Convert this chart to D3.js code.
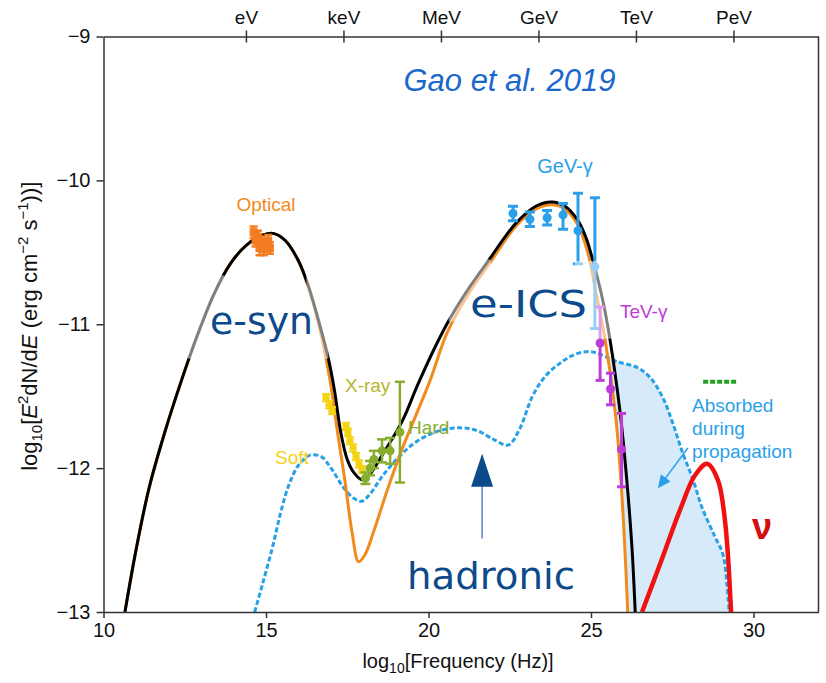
<!DOCTYPE html>
<html>
<meta charset="utf-8">
<style>
body { margin: 0; background: #fff; font-family: "Liberation Sans", Arial, sans-serif; }
.axis path, .axis line { fill: none; stroke: #333; stroke-width: 1.5px; }
.axis text { font-size: 20px; fill: #111; font-family: "Liberation Sans", Arial, sans-serif; }
.lbl { font-size: 19px; }
.big { font-family: "DejaVu Sans", sans-serif; font-size: 38px; fill: #0c4a8c; }
</style>
<body>
<script src="https://d3js.org/d3.v7.min.js"></script>
<script>
// ---- data (x = log10 frequency, y = log10 flux) ----
var totalCurve = [
  [10.66,-13.0],[11.0,-12.57],[11.4,-12.14],[11.9,-11.74],[12.4,-11.39],[12.9,-11.07],
  [13.4,-10.79],[13.9,-10.58],[14.4,-10.45],[14.9,-10.38],[15.25,-10.37],[15.6,-10.42],
  [16.0,-10.56],[16.3,-10.73],[16.6,-10.96],[16.9,-11.22],[17.1,-11.45],[17.3,-11.75],
  [17.5,-11.94],[17.7,-12.03],[17.95,-12.08],[18.2,-12.04],[18.6,-11.9],[19.2,-11.67],
  [19.65,-11.43],[20.2,-11.16],[20.66,-10.96],[21.3,-10.73],[21.9,-10.54],[22.3,-10.41],
  [22.72,-10.29],[23.3,-10.18],[23.8,-10.15],[24.2,-10.18],[24.57,-10.27],[24.85,-10.4],
  [25.06,-10.56],[25.35,-10.82],[25.58,-11.1],[25.9,-11.62],[26.1,-12.08],[26.26,-12.55],[26.36,-13.0]
];
var leptonicCurve = [
  [10.66,-13.0],[11.0,-12.57],[11.4,-12.14],[11.9,-11.74],[12.4,-11.39],[12.9,-11.07],
  [13.4,-10.79],[13.9,-10.58],[14.4,-10.45],[14.9,-10.38],[15.25,-10.37],[15.6,-10.42],
  [16.0,-10.56],[16.3,-10.74],[16.6,-10.98],[16.97,-11.39],[17.2,-11.75],[17.43,-12.09],
  [17.65,-12.45],[17.85,-12.65],[18.05,-12.6],[18.3,-12.45],[18.72,-12.16],[19.2,-11.86],
  [20.05,-11.39],[20.57,-11.06],[21.2,-10.8],[21.9,-10.57],[22.72,-10.31],[23.3,-10.2],
  [23.8,-10.17],[24.2,-10.2],[24.57,-10.3],[24.9,-10.5],[25.15,-10.78],[25.43,-11.1],
  [25.75,-11.62],[25.92,-12.08],[26.04,-12.55],[26.13,-13.0]
];
var hadronicCurve = [
  [14.65,-13.0],[14.9,-12.8],[15.2,-12.55],[15.45,-12.31],[15.7,-12.12],[16.0,-11.98],
  [16.35,-11.91],[16.7,-11.92],[17.0,-12.0],[17.4,-12.14],[17.7,-12.21],[17.95,-12.23],
  [18.2,-12.18],[18.6,-12.05],[19.1,-11.92],[19.6,-11.82],[20.2,-11.75],[20.9,-11.72],
  [21.5,-11.74],[22.0,-11.8],[22.45,-11.84],[22.8,-11.73],[23.2,-11.5],[23.6,-11.36],
  [24.05,-11.27],[24.5,-11.21],[24.97,-11.19],[25.3,-11.21],[25.8,-11.26],[26.42,-11.3],
  [26.82,-11.37],[27.21,-11.51],[27.52,-11.69],[27.83,-11.9],[28.14,-12.08],[28.41,-12.27],
  [28.8,-12.47],[29.06,-12.6],[29.18,-12.8],[29.25,-13.0]
];
var neutrinoCurve = [
  [26.57,-13.0],[27.12,-12.67],[27.74,-12.29],[28.2,-12.05],[28.57,-11.97],[28.9,-12.08],
  [29.12,-12.36],[29.31,-13.0]
];
var neutrinoLimit = [[28.45,-11.40],[29.5,-11.40]];

var opticalPts = [
  {x:14.62,y:-10.36,e:0.04},{x:14.68,y:-10.42,e:0.04},{x:14.75,y:-10.39,e:0.04},
  {x:14.8,y:-10.47,e:0.05},{x:14.87,y:-10.43,e:0.04},{x:14.93,y:-10.48,e:0.04},
  {x:15.0,y:-10.45,e:0.04},{x:15.07,y:-10.42,e:0.04},{x:15.12,y:-10.47,e:0.04}
];
var softPts = [
  {x:16.85,y:-11.51,e:0.025},{x:16.94,y:-11.56,e:0.025},{x:17.03,y:-11.6,e:0.025},
  {x:17.46,y:-11.71,e:0.025},{x:17.52,y:-11.75,e:0.025},{x:17.58,y:-11.81,e:0.025},
  {x:17.68,y:-11.86,e:0.025},{x:17.77,y:-11.92,e:0.025},{x:17.86,y:-11.97,e:0.025},
  {x:17.95,y:-12.01,e:0.025}
];
var hardPts = [
  {x:18.06,y:-12.07,lo:0.04,hi:0.04},{x:18.2,y:-12.0,lo:0.05,hi:0.05},
  {x:18.32,y:-11.94,lo:0.06,hi:0.06},{x:18.57,y:-11.88,lo:0.08,hi:0.08},
  {x:18.82,y:-11.88,lo:0.09,hi:0.09},{x:19.12,y:-11.75,lo:0.35,hi:0.35}
];
var gevPts = [
  {x:22.6,y:-10.23,lo:0.05,hi:0.05},{x:23.12,y:-10.27,lo:0.05,hi:0.05},
  {x:23.65,y:-10.26,lo:0.05,hi:0.05},{x:24.14,y:-10.24,lo:0.1,hi:0.08},
  {x:24.6,y:-10.35,lo:0.23,hi:0.26},{x:25.12,y:-10.6,lo:0.43,hi:0.48}
];
var tevPts = [
  {x:25.28,y:-11.13,lo:0.26,hi:0.25},{x:25.6,y:-11.45,lo:0.11,hi:0.11},
  {x:25.94,y:-11.87,lo:0.26,hi:0.25}
];
var xTicks = [10, 15, 20, 25, 30];
var yTicks = [-13, -12, -11, -10, -9];
var energyTicks = [14.383, 17.383, 20.383, 23.383, 26.383, 29.383];
var energyLabels = ["eV", "keV", "MeV", "GeV", "TeV", "PeV"];
// faded patches of the original picture (x range, y range)
var fadeBands = [
  [12.6, 13.72, -10.66, -11.24], [16.24, 16.92, -10.66, -11.24],
  [20.62, 21.92, -10.55, -10.98], [24.5, 25.75, -10.56, -11.1]
];

// ---- layout ----
var margin = {top: 36.5, right: 7.5, bottom: 71, left: 103.5},
    width = 826 - margin.left - margin.right,
    height = 683 - margin.top - margin.bottom;

var x = d3.scaleLinear().domain([10, 32]).range([0, width]);
var y = d3.scaleLinear().domain([-13, -9]).range([height, 0]);

var svg = d3.select("body").append("svg")
    .attr("width", 826).attr("height", 683)
  .append("g")
    .attr("transform", "translate(" + margin.left + "," + margin.top + ")");

var defs = svg.append("defs");
defs.append("clipPath").attr("id", "plot")
  .append("rect").attr("width", width).attr("height", height);

var line = d3.line().x(function(d){return x(d[0]);}).y(function(d){return y(d[1]);})
    .curve(d3.curveCatmullRom.alpha(0.5));

// region right of the falling leptonic curve, used to clip the absorbed fill
var fall = leptonicCurve.filter(function(d){return d[0] >= 23.8;});
defs.append("clipPath").attr("id", "rightOfOrange")
  .append("path")
  .attr("d", line(fall) + "L" + x(32) + "," + y(-13) + "L" + x(32) + "," + y(-9) +
        "L" + x(23.8) + "," + y(-9) + "Z");

var plot = svg.append("g").attr("clip-path", "url(#plot)");

// absorbed region
plot.append("g").attr("clip-path", "url(#rightOfOrange)")
  .append("path")
  .datum(hadronicCurve.filter(function(d){return d[0] >= 24.5;}))
  .attr("fill", "#d6eafa")
  .attr("d", d3.area().x(function(d){return x(d[0]);}).y0(y(-13))
      .y1(function(d){return y(d[1]);}).curve(d3.curveCatmullRom.alpha(0.5)));

// curves
plot.append("path").datum(hadronicCurve).attr("d", line)
  .attr("fill", "none").attr("stroke", "#27a0e6").attr("stroke-width", 3)
  .attr("stroke-dasharray", "5,2.5");
plot.append("path").datum(leptonicCurve).attr("d", line)
  .attr("fill", "none").attr("stroke", "#f28a1c").attr("stroke-width", 3);
plot.append("path").datum(totalCurve).attr("d", line)
  .attr("fill", "none").attr("stroke", "#000").attr("stroke-width", 3);
plot.append("path").datum(neutrinoCurve).attr("d", line)
  .attr("fill", "none").attr("stroke", "#f01212").attr("stroke-width", 4.5);
plot.append("path").datum(neutrinoLimit).attr("d", d3.line().x(function(d){return x(d[0]);}).y(function(d){return y(d[1]);}))
  .attr("fill", "none").attr("stroke", "#23a21f").attr("stroke-width", 4)
  .attr("stroke-dasharray", "5,2");

// error bars helper
function errBars(data, color, capW, sw) {
  var g = plot.append("g").attr("stroke", color).attr("stroke-width", sw);
  var lo = function(d){return d.lo !== undefined ? d.lo : d.e;};
  var hi = function(d){return d.hi !== undefined ? d.hi : d.e;};
  g.selectAll(".bar").data(data).enter().append("line")
    .attr("x1", function(d){return x(d.x);}).attr("x2", function(d){return x(d.x);})
    .attr("y1", function(d){return y(d.y + hi(d));}).attr("y2", function(d){return y(d.y - lo(d));});
  g.selectAll(".capt").data(data).enter().append("line")
    .attr("x1", function(d){return x(d.x) - capW/2;}).attr("x2", function(d){return x(d.x) + capW/2;})
    .attr("y1", function(d){return y(d.y + hi(d));}).attr("y2", function(d){return y(d.y + hi(d));});
  g.selectAll(".capb").data(data).enter().append("line")
    .attr("x1", function(d){return x(d.x) - capW/2;}).attr("x2", function(d){return x(d.x) + capW/2;})
    .attr("y1", function(d){return y(d.y - lo(d));}).attr("y2", function(d){return y(d.y - lo(d));});
  return g;
}

// optical
errBars(opticalPts, "#f47c20", 8, 2.5);
plot.selectAll(".opt").data(opticalPts).enter().append("rect")
  .attr("x", function(d){return x(d.x) - 4;}).attr("y", function(d){return y(d.y) - 4;})
  .attr("width", 8).attr("height", 8).attr("fill", "#f47c20");

// soft X-ray
errBars(softPts, "#f5d20f", 8, 2);
plot.selectAll(".soft").data(softPts).enter().append("rect")
  .attr("x", function(d){return x(d.x) - 3.5;}).attr("y", function(d){return y(d.y) - 2.5;})
  .attr("width", 7).attr("height", 5).attr("fill", "#f5d20f");

// hard X-ray
errBars(hardPts, "#87ad2f", 10, 2.5);
plot.selectAll(".hard").data(hardPts).enter().append("circle")
  .attr("cx", function(d){return x(d.x);}).attr("cy", function(d){return y(d.y);})
  .attr("r", 4.5).attr("fill", "#87ad2f");

// GeV
errBars(gevPts, "#2b9fea", 10, 3);
plot.selectAll(".gev").data(gevPts).enter().append("circle")
  .attr("cx", function(d){return x(d.x);}).attr("cy", function(d){return y(d.y);})
  .attr("r", 4.5).attr("fill", "#2b9fea");

// TeV
errBars(tevPts, "#bd3bd6", 9, 3);
plot.selectAll(".tev").data(tevPts).enter().append("circle")
  .attr("cx", function(d){return x(d.x);}).attr("cy", function(d){return y(d.y);})
  .attr("r", 4.5).attr("fill", "#bd3bd6");

// faded patches
plot.selectAll(".fade").data(fadeBands).enter().append("rect")
  .attr("x", function(d){return x(d[0]);}).attr("width", function(d){return x(d[1]) - x(d[0]);})
  .attr("y", function(d){return y(d[2]);}).attr("height", function(d){return y(d[3]) - y(d[2]);})
  .attr("fill", "#fff").attr("opacity", 0.5);

// ---- axes ----
svg.append("g").attr("class", "axis")
  .attr("transform", "translate(0," + height + ")")
  .call(d3.axisBottom(x).tickValues(xTicks).tickSize(6).tickPadding(5).tickSizeOuter(0));
svg.append("g").attr("class", "axis")
  .call(d3.axisLeft(y).tickValues(yTicks).tickSize(7).tickPadding(6).tickSizeOuter(0)
    .tickFormat(d3.format("d")));
var topAxis = svg.append("g").attr("class", "axis")
  .call(d3.axisTop(x).tickValues(energyTicks).tickSize(6).tickPadding(7).tickSizeOuter(0)
    .tickFormat(function(d, i){return energyLabels[i];}));
topAxis.selectAll(".tick line").attr("y1", 6);
topAxis.selectAll("text").style("font-size", "19px");
svg.append("line")
  .attr("x1", width).attr("x2", width).attr("y1", 0).attr("y2", height)
  .attr("stroke", "#333").attr("stroke-width", 1.5);

// axis titles
var xt = svg.append("text").attr("x", width / 2 - 3).attr("y", height + 56)
  .attr("text-anchor", "middle").style("font-size", "20px").attr("fill", "#111");
xt.append("tspan").text("log");
xt.append("tspan").text("10").attr("dy", 5).style("font-size", "14px");
xt.append("tspan").text("[Frequency (Hz)]").attr("dy", -5);

var yt = svg.append("text").attr("transform", "translate(" + (-67) + "," + (height / 2 + 2) + ") rotate(-90)")
  .attr("text-anchor", "middle").style("font-size", "22px").attr("fill", "#111");
yt.append("tspan").text("log");
yt.append("tspan").text("10").attr("dy", 5).style("font-size", "15px");
yt.append("tspan").text("[").attr("dy", -5);
yt.append("tspan").text("E").style("font-style", "italic");
yt.append("tspan").text("2").attr("dy", -9).style("font-size", "15px");
yt.append("tspan").text("dN/d").attr("dy", 9);
yt.append("tspan").text("E").style("font-style", "italic");
yt.append("tspan").text(" (erg cm");
yt.append("tspan").text("\u22122").attr("dy", -9).style("font-size", "15px");
yt.append("tspan").text(" s").attr("dy", 9);
yt.append("tspan").text("\u22121").attr("dy", -9).style("font-size", "15px");
yt.append("tspan").text("))]").attr("dy", 9);

// ---- annotations ----
function label(t, xv, yv, color, anchor, cls) {
  return svg.append("text").attr("class", cls || "lbl").attr("x", x(xv)).attr("y", y(yv))
    .attr("fill", color).attr("text-anchor", anchor || "start").text(t);
}
label("Gao et al. 2019", 22.49, -9.38, "#1a68cc", "middle").style("font-size", "31px").style("font-style", "italic");
label("Optical", 15.0, -10.21, "#f28a1c", "middle");
label("X-ray", 17.43, -11.47, "#b4b62c");
label("Hard", 19.37, -11.76, "#87ad2f");
label("Soft", 15.28, -11.97, "#f2d21a");
label("GeV-\u03b3", 24.2, -9.95, "#2b9fea", "middle").style("font-size", "20px");
label("TeV-\u03b3", 25.89, -10.96, "#bd3bd6");
label("Absorbed", 28.11, -11.61, "#2b9fea");
label("during", 28.11, -11.77, "#2b9fea");
label("propagation", 28.11, -11.93, "#2b9fea");
label("\u03bd", 30.26, -12.49, "#d40d0d", "middle").style("font-size", "36px").style("font-weight", "bold");
label("e-syn", 13.28, -11.07, "#0c4a8c", "start", "big").attr("textLength", 103).attr("lengthAdjust", "spacingAndGlyphs");
label("e-ICS", 21.28, -10.95, "#0c4a8c", "start", "big").attr("textLength", 117).attr("lengthAdjust", "spacingAndGlyphs");
label("hadronic", 19.34, -12.84, "#0c4a8c", "start", "big").attr("textLength", 168).attr("lengthAdjust", "spacingAndGlyphs");

// hadronic arrow
svg.append("line").attr("x1", x(21.65)).attr("x2", x(21.65)).attr("y1", y(-12.49)).attr("y2", y(-12.1))
  .attr("stroke", "#5a86c0").attr("stroke-width", 1.5);
svg.append("path")
  .attr("d", "M" + x(21.65) + "," + y(-11.9) + "L" + (x(21.65) - 11) + "," + y(-12.13) +
             "L" + (x(21.65) + 11) + "," + y(-12.13) + "Z")
  .attr("fill", "#0c4a8c");

// absorbed arrow
var ax0 = x(27.98), ay0 = y(-11.86), ax1 = x(27.06), ay1 = y(-12.14);
var ang = Math.atan2(ay1 - ay0, ax1 - ax0);
svg.append("line").attr("x1", ax0).attr("y1", ay0)
  .attr("x2", ax1 - 8 * Math.cos(ang)).attr("y2", ay1 - 8 * Math.sin(ang))
  .attr("stroke", "#2b9fea").attr("stroke-width", 1.5);
var hl = 13, hw = 6;
svg.append("path")
  .attr("d", "M" + ax1 + "," + ay1 +
    "L" + (ax1 - hl * Math.cos(ang) + hw * Math.sin(ang)) + "," + (ay1 - hl * Math.sin(ang) - hw * Math.cos(ang)) +
    "L" + (ax1 - hl * Math.cos(ang) - hw * Math.sin(ang)) + "," + (ay1 - hl * Math.sin(ang) + hw * Math.cos(ang)) + "Z")
  .attr("fill", "#2b9fea");
</script>
</body>
</html>
